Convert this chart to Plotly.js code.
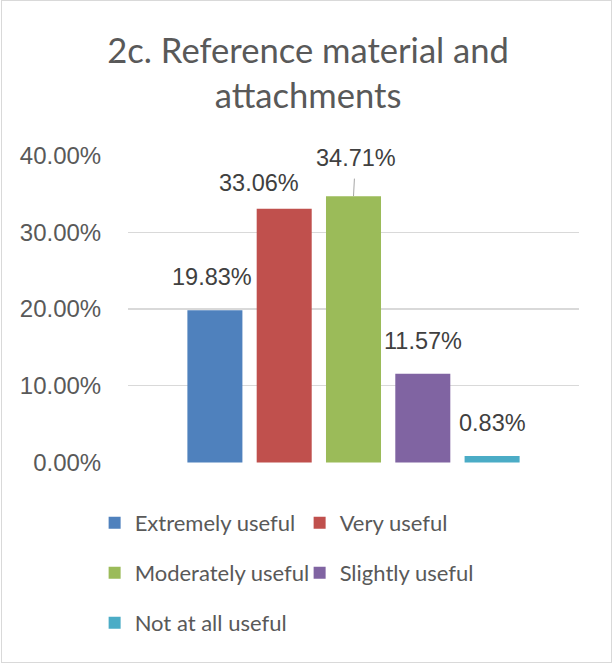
<!DOCTYPE html>
<html>
<head>
<meta charset="utf-8">
<script src="https://cdn.plot.ly/plotly-3.0.1.min.js"></script>
<style>
  html, body { margin: 0; padding: 0; background: #fff; }
  #wrap { position: relative; width: 615px; height: 665px; }
  #chart { width: 615px; height: 665px; }
  #frame { position: absolute; left: 1px; top: 0px; width: 611px; height: 663px;
           border: 1px solid #d9d9d9; pointer-events: none; box-sizing: border-box; }
</style>
</head>
<body>
<div id="wrap"><div id="chart"></div><div id="frame"></div></div>
<script>
// ---- data ----
const categories = ["Extremely useful", "Very useful", "Moderately useful", "Slightly useful", "Not at all useful"];
const values = [19.83, 33.06, 34.71, 11.57, 0.83];   // percent
const tickValues = [0, 0.1, 0.2, 0.3, 0.4];
const tickLabels = ["0.00%", "10.00%", "20.00%", "30.00%", "40.00%"];

// ---- styles ----
const colors = ["#4F81BD", "#C0504D", "#9BBB59", "#8064A2", "#4BACC6"];
const legendOf = ["legend", "legend", "legend2", "legend2", "legend3"];
const labelShift = [[-2.5, 33], [-25.5, 26], [null, null], [0.5, 33], [0, 33]];

const traces = categories.map((c, i) => ({
  type: "bar",
  name: c,
  x: [c],
  y: [values[i] / 100],
  marker: { color: colors[i] },
  legend: legendOf[i],
  hoverinfo: "skip"
}));

const labelFont = { family: "Liberation Sans, Arial, sans-serif", size: 23.5, color: "#404040" };
const annotations = categories.map((c, i) => {
  const txt = values[i].toFixed(2) + "%";
  if (labelShift[i][0] === null) {
    return {
      x: c, y: values[i] / 100, xref: "x", yref: "y",
      text: txt, font: labelFont,
      showarrow: true, arrowhead: 0, arrowwidth: 1, arrowcolor: "#a6a6a6",
      ax: 2, ay: -38, startstandoff: 6, standoff: 0
    };
  }
  return {
    x: c, y: values[i] / 100, xref: "x", yref: "y",
    text: txt, font: labelFont, showarrow: false,
    xanchor: "center", yanchor: "middle",
    xshift: labelShift[i][0], yshift: labelShift[i][1]
  };
});

const legendBase = {
  orientation: "h", xanchor: "left", yanchor: "middle",
  x: -0.074, entrywidth: 160, entrywidthmode: "pixels",
  font: { family: "Lato, Carlito, Calibri, sans-serif", size: 22, color: "#595959" },
  bgcolor: "rgba(0,0,0,0)", itemclick: false, itemdoubleclick: false
};

const layout = {
  width: 615, height: 665,
  margin: { l: 128, r: 36, t: 155, b: 202, pad: 0 },
  paper_bgcolor: "#ffffff", plot_bgcolor: "#ffffff",
  title: {
    text: "2c. Reference material and<br>attachments",
    font: { family: "Lato, Carlito, Calibri, sans-serif", size: 34.6, color: "#595959" },
    x: 0.501, xanchor: "center", xref: "container", y: 0.905, yanchor: "top"
  },
  barmode: "overlay",
  bargap: 0.206,
  xaxis: {
    type: "category", categoryarray: categories, categoryorder: "array",
    range: [-1.254, 5.254], showticklabels: false, showgrid: false,
    zeroline: false, showline: false, fixedrange: true
  },
  yaxis: {
    range: [-0.0007, 0.4007], tickvals: tickValues, ticktext: tickLabels,
    showgrid: true, gridcolor: "#d9d9d9", gridwidth: 1.3,
    zeroline: false, showline: false,
    ticks: "outside", ticklen: 21, tickcolor: "rgba(0,0,0,0)",
    tickfont: { family: "Liberation Sans, Arial, sans-serif", size: 24, color: "#595959" },
    fixedrange: true
  },
  legend: Object.assign({}, legendBase, { y: -0.195 }),
  legend2: Object.assign({}, legendBase, { y: -0.357 }),
  legend3: Object.assign({}, legendBase, { y: -0.519 }),
  annotations: annotations,
  showlegend: true
};

Plotly.newPlot("chart", traces, layout, { displayModeBar: false, staticPlot: true });
</script>
</body>
</html>
